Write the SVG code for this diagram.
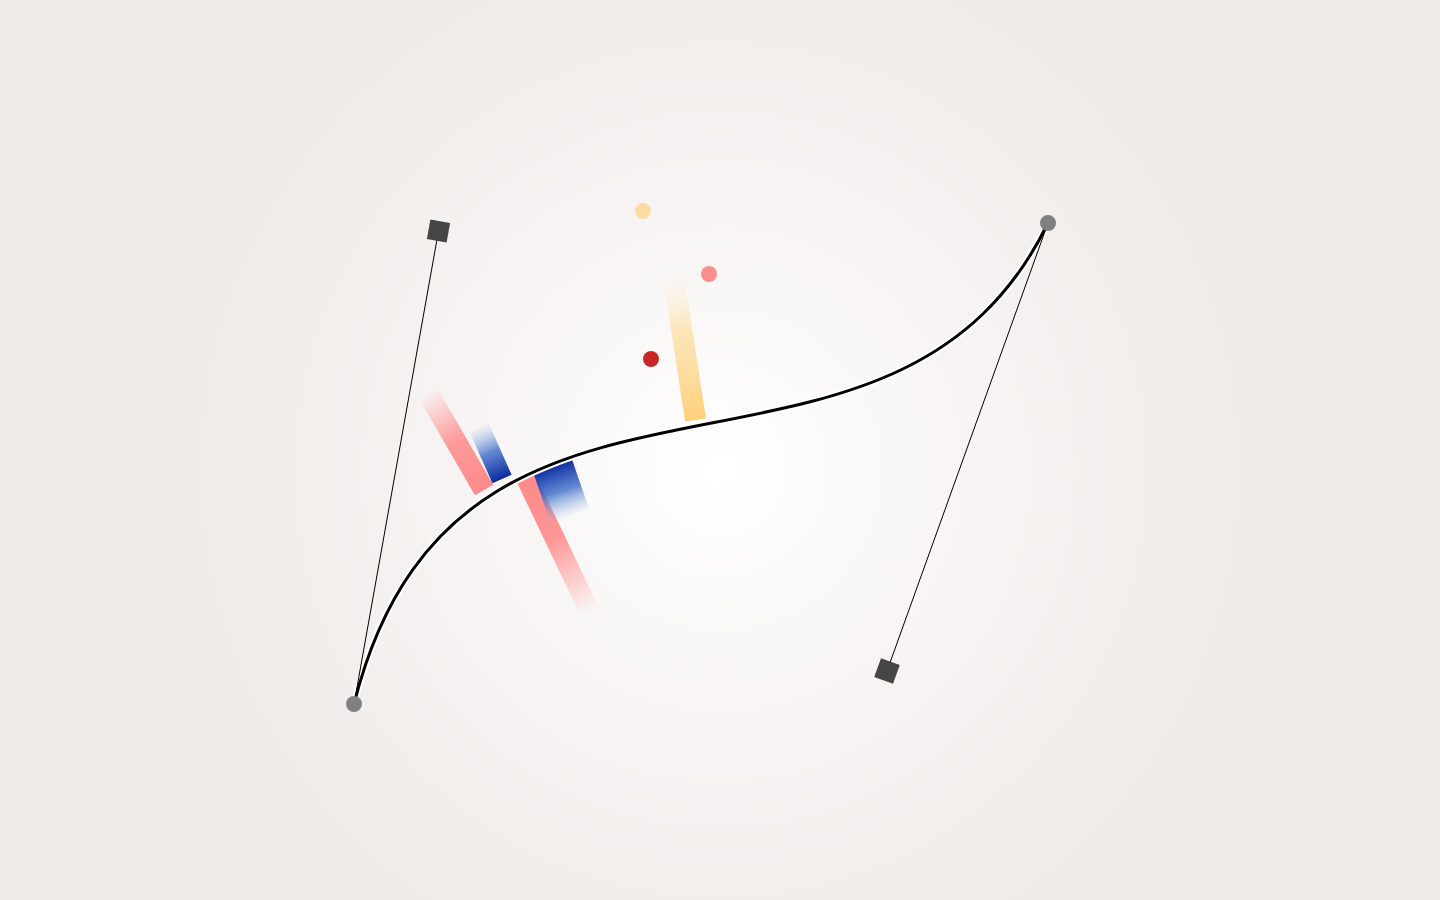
<svg xmlns="http://www.w3.org/2000/svg" width="1440" height="900" viewBox="0 0 1440 900">
  <defs>
    <radialGradient id="bg" cx="720" cy="470" r="560" gradientUnits="userSpaceOnUse">
      <stop offset="0" stop-color="#ffffff"/>
      <stop offset="0.45" stop-color="#f7f4f3"/>
      <stop offset="1" stop-color="#efeae7"/>
    </radialGradient>
    <linearGradient id="redUp" x1="0" y1="1" x2="0" y2="0">
      <stop offset="0" stop-color="#ff8a8a"/>
      <stop offset="0.5" stop-color="#ff8a8a" stop-opacity="0.85"/>
      <stop offset="1" stop-color="#ff8a8a" stop-opacity="0"/>
    </linearGradient>
    <linearGradient id="redDown" x1="0" y1="0" x2="0" y2="1">
      <stop offset="0" stop-color="#ff8a8a"/>
      <stop offset="0.45" stop-color="#ff8a8a" stop-opacity="0.9"/>
      <stop offset="1" stop-color="#ff8a8a" stop-opacity="0"/>
    </linearGradient>
    <linearGradient id="blueUp" x1="0" y1="1" x2="0" y2="0">
      <stop offset="0" stop-color="#0a2a9e"/>
      <stop offset="0.5" stop-color="#3d6cc8" stop-opacity="0.8"/>
      <stop offset="1" stop-color="#8fb4e6" stop-opacity="0"/>
    </linearGradient>
    <linearGradient id="blueDown" x1="0" y1="0" x2="0" y2="1">
      <stop offset="0" stop-color="#0a2a9e"/>
      <stop offset="0.5" stop-color="#3d6cc8" stop-opacity="0.8"/>
      <stop offset="1" stop-color="#8fb4e6" stop-opacity="0"/>
    </linearGradient>
    <linearGradient id="yellowUp" x1="0" y1="1" x2="0" y2="0">
      <stop offset="0" stop-color="#ffd07c"/>
      <stop offset="0.6" stop-color="#fde0a8" stop-opacity="0.8"/>
      <stop offset="1" stop-color="#fbefd6" stop-opacity="0"/>
    </linearGradient>
    <style>
      .handle { stroke: #000; stroke-width: 1; fill: none; }
      .sq { fill: #464646; }
      .pt { fill: #808080; }
      .halo { stroke: #ffffff; stroke-width: 7; fill: none; }
      .curve { stroke: #000; stroke-width: 3; fill: none; }
    </style>
  </defs>

  <rect width="1440" height="900" fill="url(#bg)"/>

  <g id="bars">
    <rect transform="translate(484,490) rotate(-30)" x="-10.5" y="-112" width="21" height="112" fill="url(#redUp)"/>
    <rect transform="translate(502,479) rotate(-24)" x="-10.5" y="-58" width="21" height="58" fill="url(#blueUp)"/>
    <rect transform="translate(525,476) rotate(-25.5)" x="-10" y="0" width="20" height="150" fill="url(#redDown)"/>
    <rect transform="translate(533,472) rotate(-19)" x="0" y="0" width="41" height="55" fill="url(#blueDown)"/>
    <rect transform="translate(695.5,420) rotate(-8.7)" x="-10.5" y="-150" width="21" height="150" fill="url(#yellowUp)"/>
  </g>

  <g id="dots">
    <circle cx="643" cy="211" r="8" fill="#fddca2"/>
    <circle cx="709" cy="274" r="8" fill="#fb8e8e"/>
    <circle cx="651" cy="359" r="8" fill="#c62828"/>
  </g>

  <g id="connectors">
    <path class="halo" d="M354,704 C458,290 891,545 1048,223"/>
    <path class="curve" d="M354,704 C458,290 891,545 1048,223"/>
    <line class="handle" x1="354" y1="704" x2="438.5" y2="231"/>
    <line class="handle" x1="1048" y1="223" x2="887" y2="671"/>
  </g>

  <g id="handle1"><rect class="sq" transform="translate(438.5,231) rotate(10)" x="-10" y="-10" width="20" height="20"/></g>
  <g id="handle2"><rect class="sq" transform="translate(887,671) rotate(20)" x="-10" y="-10" width="20" height="20"/></g>
  <g id="start"><circle class="pt" cx="354" cy="704" r="8"/></g>
  <g id="end"><circle class="pt" cx="1048" cy="223" r="8"/></g>
</svg>
